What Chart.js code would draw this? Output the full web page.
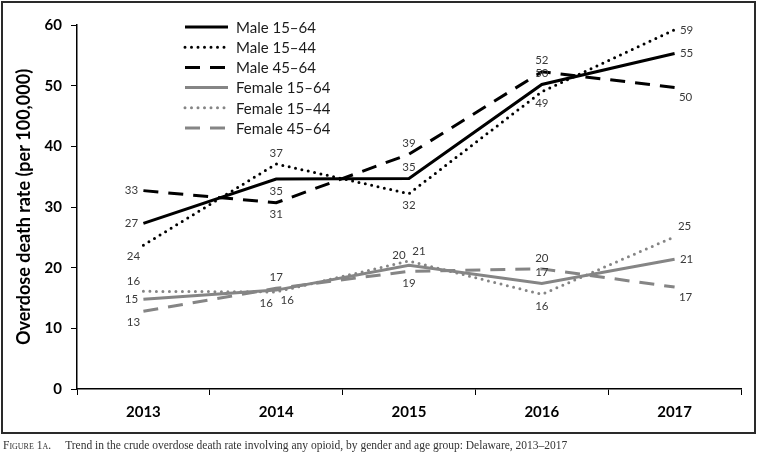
<!DOCTYPE html>
<html lang="en">
<head>
<meta charset="UTF-8">
<title>Overdose death rate, Delaware 2013-2017</title>
<script src="https://cdn.jsdelivr.net/npm/chart.js"></script>
<style>
  body { margin:0; background:#fff; }
  #wrap { position:relative; width:758px; height:456px; }
  #frame { position:absolute; left:1px; top:1px; width:751px; height:429px; border:2px solid #2a2a2a; }
  #chartBox { position:absolute; left:0; top:0; width:758px; height:436px; }
  #caption { position:absolute; left:3px; top:439px; font-family:"Liberation Serif","Times New Roman",serif; font-size:11.5px; color:#333; white-space:nowrap; }
  #caption .fig { font-variant:small-caps; margin-right:14px; }
</style>
</head>
<body>
<div id="wrap">
  <div id="chartBox"><canvas id="myChart" width="758" height="436"></canvas></div>
  <div id="frame"></div>
  <div id="caption"><span class="fig">Figure 1a.</span>Trend in the crude overdose death rate involving any opioid, by gender and age group: Delaware, 2013–2017</div>
</div>

<script>
// data
const years = ['2013', '2014', '2015', '2016', '2017'];
const seriesNames = ['Male 15–64', 'Male 15–44', 'Male 45–64', 'Female 15–64', 'Female 15–44', 'Female 45–64'];
const male1564   = [27.3, 34.6, 34.7, 50.2, 55.3];
const male1544   = [23.7, 37.1, 32.2, 49.0, 59.2];
const male4564   = [32.7, 30.7, 38.7, 52.3, 49.7];
const female1564 = [14.8, 16.3, 20.4, 17.4, 21.4];
const female1544 = [16.1, 16.0, 21.1, 15.6, 25.1];
const female4564 = [12.8, 16.6, 19.4, 19.8, 16.8];
const yTicks = [0, 10, 20, 30, 40, 50, 60];

// where each value label sits around its point
const labelSides = [
  ['w', 's', 'n', 'n', 'e'],
  ['sw', 'n', 's', 's', 'e'],
  ['w', 's', 'n', 'n', 'se'],
  ['w', 'se', 'nw', 'n', 'e'],
  ['nw', 'sw', 'ne', 's', 'ne'],
  ['sw', 'n', 's', 'n', 'se']
];
const sideOffset = {
  w:[-12,0], e:[12,0], n:[0,-11], s:[0,12],
  nw:[-10,-10], sw:[-10,11], ne:[10,-10], se:[11,10]
};

const BLACK = '#000000';
const GRAY = '#858585';
const DOT = [0, 6.5];
const DASH = [15, 10];

function mkSet(i, values, color, dash) {
  return {
    label: seriesNames[i],
    data: values,
    borderColor: color,
    backgroundColor: color,
    borderWidth: 3,
    borderDash: dash,
    borderCapStyle: dash === DOT ? 'round' : 'butt',
    pointRadius: 0,
    tension: 0,
    fill: false
  };
}

const datasets = [
  mkSet(0, male1564, BLACK, []),
  mkSet(1, male1544, BLACK, DOT),
  mkSet(2, male4564, BLACK, DASH),
  mkSet(3, female1564, GRAY, []),
  mkSet(4, female1544, GRAY, DOT),
  mkSet(5, female4564, GRAY, DASH)
];

// value labels next to points
const valueLabels = {
  id: 'valueLabels',
  afterDatasetsDraw(chart) {
    const ctx = chart.ctx;
    ctx.save();
    ctx.font = '11.5px Lato, "Open Sans", sans-serif';
    ctx.fillStyle = '#3a3a3a';
    ctx.textAlign = 'center';
    ctx.textBaseline = 'middle';
    chart.data.datasets.forEach((ds, i) => {
      chart.getDatasetMeta(i).data.forEach((pt, j) => {
        const off = sideOffset[labelSides[i][j]];
        ctx.fillText(Math.round(ds.data[j]), pt.x + off[0], pt.y + off[1]);
      });
    });
    ctx.restore();
  }
};

// legend drawn inside the plot, top left
const innerLegend = {
  id: 'innerLegend',
  afterDraw(chart) {
    const ctx = chart.ctx;
    const x0 = 185, x1 = 228, tx = 236, y0 = 27, step = 20.2;
    ctx.save();
    ctx.font = '15px Lato, "Open Sans", sans-serif';
    ctx.textBaseline = 'middle';
    chart.data.datasets.forEach((ds, i) => {
      const y = y0 + i * step;
      ctx.beginPath();
      ctx.strokeStyle = ds.borderColor;
      ctx.lineWidth = 3;
      ctx.lineCap = ds.borderCapStyle;
      ctx.setLineDash(ds.borderDash);
      ctx.moveTo(x0, y);
      ctx.lineTo(x1, y);
      ctx.stroke();
      ctx.setLineDash([]);
      ctx.fillStyle = '#1a1a1a';
      ctx.fillText(ds.label, tx, y + 1);
    });
    ctx.restore();
  }
};

const ctx = document.querySelector('#myChart').getContext('2d');
const myChart = new Chart(ctx, {
  type: 'line',
  data: { labels: years, datasets: datasets },
  options: {
    responsive: false,
    animation: false,
    layout: { padding: { top: 25, right: 17, left: 0, bottom: 0 } },
    plugins: { legend: { display: false }, tooltip: { enabled: false } },
    scales: {
      x: {
        offset: true,
        grid: { display: true, drawOnChartArea: false, drawTicks: true, tickLength: 6, color: BLACK, offset: true },
        border: { display: true, color: BLACK, width: 1.5 },
        ticks: { color: BLACK, padding: 8, font: { family: 'Lato', size: 15, weight: 'bold' } },
        afterFit(s) { s.height = 47; }
      },
      y: {
        min: 0, max: 60,
        afterBuildTicks(s) { s.ticks = yTicks.map(v => ({ value: v })); },
        grid: { display: true, drawOnChartArea: false, drawTicks: true, tickLength: 6, color: BLACK },
        border: { display: true, color: BLACK, width: 1.5 },
        ticks: { color: BLACK, padding: 9, font: { family: 'Lato', size: 15, weight: 'bold' } },
        title: {
          display: true,
          text: 'Overdose death rate (per 100,000)',
          color: BLACK,
          font: { family: 'Lato', size: 18, weight: 'bold' },
          padding: { top: 13, bottom: 0 }
        },
        afterFit(s) { s.width = 77; }
      }
    }
  },
  plugins: [valueLabels, innerLegend]
});
</script>
</body>
</html>
